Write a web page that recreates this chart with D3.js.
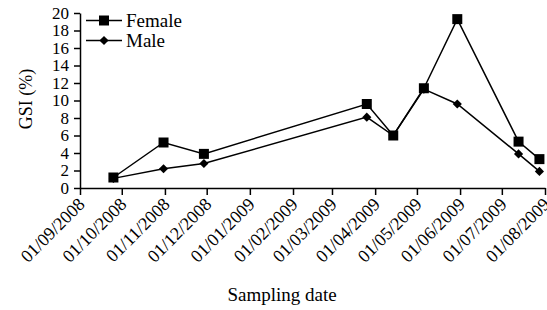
<!DOCTYPE html>
<html>
<head>
<meta charset="utf-8">
<script src="https://cdn.jsdelivr.net/npm/d3@7"></script>
<style>
  body { margin: 0; background: #fff; }
  .axis path, .axis line { stroke: #000; stroke-width: 1.5px; }
  svg text { font-family: "Liberation Serif", serif !important; fill: #000; }
</style>
</head>
<body>
<div id="chart"></div>
<script>
// sampling dates (dd/mm/yyyy)
var dates = ['25/09/2008', '31/10/2008', '29/11/2008', '26/03/2009', '14/04/2009',
             '06/05/2009', '30/05/2009', '13/07/2009', '28/07/2009'];
var female = [1.2, 5.2, 3.9, 9.6, 6.0, 11.4, 19.3, 5.3, 3.3];
var male   = [1.1, 2.2, 2.8, 8.1, 6.0, 11.3, 9.6, 3.9, 1.9];
var yTicks = [0, 2, 4, 6, 8, 10, 12, 14, 16, 18, 20];
var xTickLabels = ['01/09/2008', '01/10/2008', '01/11/2008', '01/12/2008', '01/01/2009', '01/02/2009',
                   '01/03/2009', '01/04/2009', '01/05/2009', '01/06/2009', '01/07/2009', '01/08/2009'];

var parse = d3.timeParse('%d/%m/%Y'),
    fmt = d3.timeFormat('%d/%m/%Y');

var W = 547, H = 310;
var margin = {top: 13, right: 2, bottom: 122, left: 80},
    width = W - margin.left - margin.right,
    height = H - margin.top - margin.bottom;

var svg = d3.select('#chart').append('svg')
    .attr('width', W)
    .attr('height', H);

var g = svg.append('g')
    .attr('transform', 'translate(' + margin.left + ',' + margin.top + ')');

var tickDates = xTickLabels.map(parse);

var x = d3.scaleTime()
    .domain([tickDates[0], tickDates[tickDates.length - 1]])
    .range([0, width]);

var y = d3.scaleLinear()
    .domain([0, 20])
    .range([height, 0]);

var xAxis = d3.axisBottom(x)
    .tickValues(tickDates)
    .tickFormat(fmt)
    .tickSize(7)
    .tickSizeOuter(0);

var yAxis = d3.axisLeft(y)
    .tickValues(yTicks)
    .tickSize(6)
    .tickPadding(5)
    .tickSizeOuter(0);

g.append('g')
    .attr('class', 'x axis')
    .attr('transform', 'translate(0,' + height + ')')
    .call(xAxis)
  .selectAll('text')
    .style('font-size', '18px')
    .style('text-anchor', 'end')
    .attr('x', 0)
    .attr('y', 0)
    .attr('dy', '0.35em')
    .attr('transform', 'translate(1,13) rotate(-45)');

g.append('g')
    .attr('class', 'y axis')
    .call(yAxis)
  .selectAll('text')
    .style('font-size', '17px');

var rows = dates.map(function(d, i) {
  return {date: parse(d), female: female[i], male: male[i]};
});

function lineFor(key) {
  return d3.line()
    .x(function(d) { return x(d.date); })
    .y(function(d) { return y(d[key]); });
}

g.append('path').datum(rows)
    .attr('fill', 'none').attr('stroke', '#000').attr('stroke-width', 1.5)
    .attr('d', lineFor('male'));

g.append('path').datum(rows)
    .attr('fill', 'none').attr('stroke', '#000').attr('stroke-width', 1.5)
    .attr('d', lineFor('female'));

var square = d3.symbol().type(d3.symbolSquare).size(100),
    diamond = d3.symbol().type(d3.symbolSquare).size(42);

g.selectAll('.m').data(rows).enter().append('path')
    .attr('class', 'm')
    .attr('transform', function(d) { return 'translate(' + x(d.date) + ',' + y(d.male) + ') rotate(45)'; })
    .attr('d', diamond);

g.selectAll('.f').data(rows).enter().append('path')
    .attr('class', 'f')
    .attr('transform', function(d) { return 'translate(' + x(d.date) + ',' + y(d.female) + ')'; })
    .attr('d', square);

// legend
var legend = [{name: 'Female', sym: square, rot: 0}, {name: 'Male', sym: diamond, rot: 45}];
var lg = svg.selectAll('.legend').data(legend).enter().append('g')
    .attr('class', 'legend')
    .attr('transform', function(d, i) { return 'translate(86,' + (20.5 + i * 20) + ')'; });
lg.append('line')
    .attr('x1', 0).attr('x2', 36)
    .attr('stroke', '#000').attr('stroke-width', 1.5);
lg.append('path')
    .attr('transform', function(d) { return 'translate(18,0) rotate(' + d.rot + ')'; })
    .attr('d', function(d) { return d.sym(); });
lg.append('text')
    .attr('x', 40).attr('dy', '0.35em')
    .style('font-size', '19px')
    .text(function(d) { return d.name; });

// axis titles
svg.append('text')
    .attr('transform', 'translate(32,99) rotate(-90)')
    .attr('text-anchor', 'middle')
    .style('font-size', '18px')
    .text('GSI (%)');

svg.append('text')
    .attr('x', 282).attr('y', 301)
    .attr('text-anchor', 'middle')
    .style('font-size', '19px')
    .text('Sampling date');
</script>
</body>
</html>
